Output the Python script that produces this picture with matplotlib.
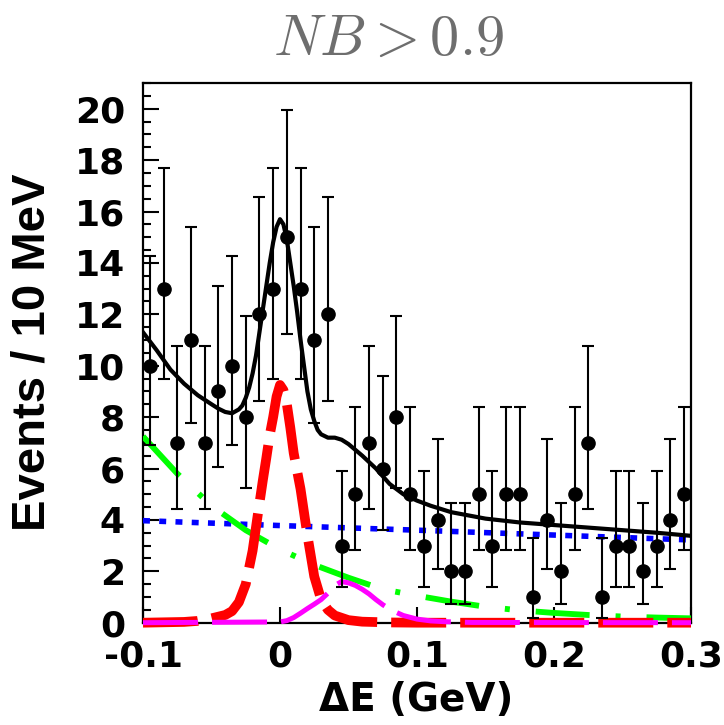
import numpy as np
import matplotlib.pyplot as plt

plt.rcParams['lines.scale_dashes'] = False
plt.rcParams['mathtext.fontset'] = 'cm'

# data points (10 MeV bins)
bin_centers = np.arange(-0.095, 0.3, 0.01)
counts = [10, 13, 7, 11, 7, 9, 10, 8, 12, 13,
          15, 13, 11, 12, 3, 5, 7, 6, 8, 5,
          3, 4, 2, 2, 5, 3, 5, 5, 1, 4,
          2, 5, 7, 1, 3, 3, 2, 3, 4, 5]

# asymmetric poisson error bars, by count
err_low = {1: 0.83, 2: 1.29, 3: 1.63, 4: 1.91, 5: 2.16, 6: 2.38, 7: 2.58,
           8: 2.76, 9: 2.93, 10: 3.09, 11: 3.24, 12: 3.38, 13: 3.51, 15: 3.77}
err_high = {1: 2.30, 2: 2.64, 3: 2.92, 4: 3.16, 5: 3.38, 6: 3.58, 7: 3.77,
            8: 3.94, 9: 4.11, 10: 4.26, 11: 4.41, 12: 4.56, 13: 4.69, 15: 4.95}

# total fit
tot_x = [-0.100, -0.090, -0.080, -0.070, -0.060, -0.050, -0.045, -0.040, -0.035,
         -0.030, -0.0275, -0.025, -0.0225, -0.020, -0.0175, -0.015, -0.0125,
         -0.010, -0.0075, -0.005, -0.0025, 0.000, 0.0025, 0.005, 0.0075, 0.010,
         0.0125, 0.015, 0.0175, 0.020, 0.0225, 0.025, 0.0275, 0.030, 0.035,
         0.040, 0.045, 0.050, 0.060, 0.070, 0.080, 0.090, 0.100, 0.110, 0.125,
         0.150, 0.175, 0.200, 0.225, 0.250, 0.275, 0.300]
tot_y = [11.3, 10.6, 9.85, 9.3, 8.85, 8.5, 8.33, 8.2, 8.15,
         8.3, 8.45, 8.75, 9.15, 9.7, 10.4, 11.3, 12.2,
         13.1, 14.0, 14.8, 15.4, 15.7, 15.5, 14.9, 14.0, 13.1,
         12.1, 11.0, 10.0, 9.0, 8.3, 7.85, 7.5, 7.33, 7.2,
         7.2, 7.12, 6.95, 6.5, 6.0, 5.4, 5.0, 4.75, 4.55, 4.3,
         4.05, 3.9, 3.8, 3.7, 3.6, 3.5, 3.38]

# signal (red)
sig_x = [-0.100, -0.070, -0.060, -0.050, -0.040, -0.035, -0.030, -0.025, -0.020,
         -0.015, -0.0125, -0.010, -0.0075, -0.005, -0.0025, 0.000, 0.0025, 0.005,
         0.0075, 0.010, 0.0125, 0.015, 0.020, 0.025, 0.030, 0.035, 0.040, 0.050,
         0.060, 0.080, 0.100, 0.300]
sig_y = [0.0, 0.03, 0.07, 0.17, 0.3, 0.45, 0.8, 1.5, 2.8,
         4.65, 5.55, 6.4, 7.3, 8.0, 8.8, 9.25, 9.05, 8.5,
         7.6, 6.6, 5.9, 5.2, 3.4, 1.8, 0.9, 0.5, 0.28, 0.1,
         0.04, 0.01, 0.0, 0.0]

# peaking background (magenta)
peak_x = [-0.100, 0.000, 0.005, 0.010, 0.015, 0.020, 0.025, 0.030, 0.035, 0.040,
          0.045, 0.050, 0.055, 0.060, 0.065, 0.070, 0.075, 0.080, 0.085, 0.090,
          0.100, 0.110, 0.120, 0.140, 0.300]
peak_y = [0.0, 0.03, 0.08, 0.2, 0.37, 0.55, 0.72, 0.9, 1.15, 1.45,
          1.6, 1.55, 1.45, 1.3, 1.12, 0.9, 0.7, 0.53, 0.4, 0.28,
          0.14, 0.07, 0.04, 0.01, 0.0]

# B background (green)
bb_x = [-0.100, -0.075, -0.050, -0.025, 0.000, 0.025, 0.050, 0.075, 0.100,
        0.125, 0.150, 0.175, 0.200, 0.225, 0.250, 0.275, 0.300]
bb_y = [7.25, 5.8, 4.55, 3.6, 2.85, 2.25, 1.75, 1.3, 1.05,
        0.82, 0.62, 0.48, 0.38, 0.3, 0.24, 0.2, 0.17]

# continuum (blue)
qq_x = [-0.1, 0.0, 0.1, 0.2, 0.3]
qq_y = [3.97, 3.78, 3.6, 3.41, 3.22]

fig = plt.figure(figsize=(7.24, 7.25), dpi=100)
ax = fig.add_axes([143 / 724, 1 - 622.7 / 725, 548 / 724, 539.7 / 725])

lo = [err_low[c] for c in counts]
hi = [err_high[c] for c in counts]
ax.errorbar(bin_centers, counts, yerr=[lo, hi], fmt='o', color='black', ms=9.5,
            elinewidth=1.5, capsize=4.3, capthick=1.5, zorder=6)

ax.plot(qq_x, qq_y, color='#0000ff', lw=4.0, ls=(0, (5.0, 6.7)), zorder=3)
ax.plot(bb_x, bb_y, color='#00ff00', lw=4.2, ls=(0, (38.9, 18.7, 3.6, 18.7)), zorder=3)
ax.plot(sig_x, sig_y, color='#ff0000', lw=7, ls=(0, (39.6, 10.1)), clip_on=False, zorder=3)
ax.plot(peak_x, peak_y, color='#ff00ff', lw=3.6, ls=(0, (39.6, 10.1)), clip_on=False, zorder=3.1)
ax.plot(tot_x, tot_y, color='black', lw=3.0, zorder=4)

ax.set_xlim(-0.1, 0.3)
ax.set_ylim(0, 21)
ax.set_xticks([-0.1, 0, 0.1, 0.2, 0.3])
ax.set_xticklabels(['-0.1', '0', '0.1', '0.2', '0.3'])
ax.set_yticks(np.arange(0, 21, 2))
ax.set_yticks(np.arange(0, 21.01, 0.5), minor=True)
ax.tick_params(which='both', direction='in', top=False, right=False, width=1.5)
ax.tick_params(which='major', length=11.5)
ax.tick_params(which='minor', length=5.6)
ax.tick_params(axis='x', pad=12)
ax.tick_params(axis='y', pad=13)
for lab in ax.get_xticklabels() + ax.get_yticklabels():
    lab.set_fontfamily('DejaVu Sans')
    lab.set_fontweight('bold')
    lab.set_fontsize(26)
for s in ax.spines.values():
    s.set_linewidth(1.6)

fig.text(33 / 724, 1 - 352 / 725, 'Events / 10 MeV', rotation=90, ha='center', va='center',
         fontfamily='Liberation Sans', fontweight='bold', fontsize=34)
fig.text(416 / 724, 1 - 700 / 725, 'ΔE (GeV)', ha='center', va='center',
         fontfamily='DejaVu Sans', fontweight='bold', fontsize=28)
fig.text(388 / 724, 1 - 38 / 725, r'$NB > 0.9$', ha='center', va='center',
         fontsize=42, color='#6e6e6e')

fig.savefig('out.png', dpi=100)
